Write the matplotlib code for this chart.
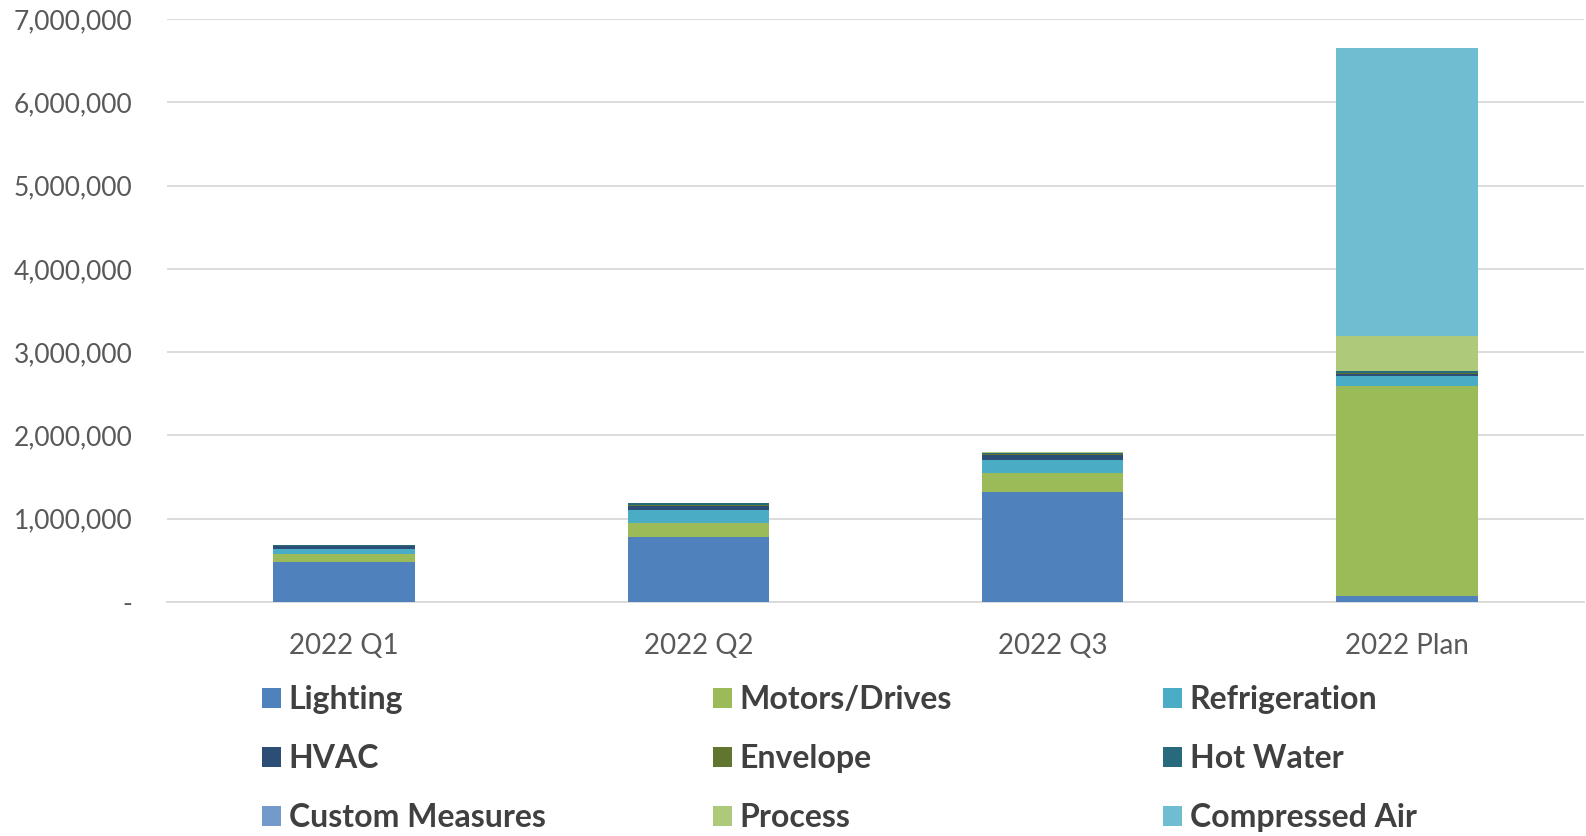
import matplotlib
matplotlib.use("Agg")
import matplotlib.pyplot as plt
import numpy as np
from matplotlib.patches import Patch
from matplotlib.ticker import FuncFormatter

plt.rcParams["font.family"] = ["Lato", "DejaVu Sans"]

categories = ["2022 Q1", "2022 Q2", "2022 Q3", "2022 Plan"]

# savings by end use (stack order bottom -> top)
lighting = [475000, 782000, 1320000, 78000]
motors = [103000, 168000, 225000, 2516000]
refrigeration = [57000, 149000, 156000, 120000]
hvac = [36000, 55000, 70000, 25000]
envelope = [3000, 10000, 4000, 10000]
hot_water = [5000, 20000, 14000, 25000]
custom = [2000, 6000, 6000, 0]
process = [0, 0, 5000, 420000]
compressed_air = [0, 0, 0, 3455000]

series = [
    ("Lighting", lighting, "#4F81BD"),
    ("Motors/Drives", motors, "#9BBB59"),
    ("Refrigeration", refrigeration, "#4BACC6"),
    ("HVAC", hvac, "#2C4D75"),
    ("Envelope", envelope, "#5F7530"),
    ("Hot Water", hot_water, "#276A7C"),
    ("Custom Measures", custom, "#729ACA"),
    ("Process", process, "#AFC97A"),
    ("Compressed Air", compressed_air, "#6FBDD1"),
]

W, H = 1586, 836
fig = plt.figure(figsize=(W / 100, H / 100), dpi=100)
ax = fig.add_axes([167 / W, 1 - 602 / H, 1417 / W, 583 / H])

x = np.arange(len(categories))
bottom = np.zeros(len(categories))
for name, vals, color in series:
    vals = np.array(vals, dtype=float)
    ax.bar(x, vals, width=0.4, bottom=bottom, color=color, label=name, zorder=3)
    bottom += vals

ax.set_xlim(-0.5, len(categories) - 0.5)
ax.set_ylim(0, 7000000)
ax.set_yticks(np.arange(0, 7000001, 1000000))
ax.yaxis.set_major_formatter(FuncFormatter(lambda v, p: "-" if v == 0 else f"{int(v):,}"))
ax.grid(axis="y", color="#D9D9D9", lw=1.3, zorder=0)
for s in ["top", "right", "left"]:
    ax.spines[s].set_visible(False)
ax.spines["bottom"].set_color("#D9D9D9")
ax.spines["bottom"].set_linewidth(1.3)
ax.set_xticks(x)
ax.set_xticklabels(categories)
ax.tick_params(axis="both", length=0, colors="#595959")
ax.tick_params(axis="x", labelsize=20, pad=22)
ax.tick_params(axis="y", labelsize=19, pad=25)

# legend: three columns, rows read left to right
col_x = [262, 713, 1163]
for c in range(3):
    handles = [Patch(facecolor=series[i][2], label=series[i][0])
               for i in (c, c + 3, c + 6)]
    leg = fig.legend(handles=handles, loc="upper left",
                     bbox_to_anchor=(col_x[c] / W, 1 - 685 / H),
                     frameon=False, borderpad=0, borderaxespad=0,
                     handlelength=0.58, handleheight=0.58,
                     handletextpad=0.25, labelspacing=0.94,
                     prop={"weight": "bold", "size": 23})
    for t in leg.get_texts():
        t.set_color("#404040")

fig.savefig("out.png", dpi=100)
